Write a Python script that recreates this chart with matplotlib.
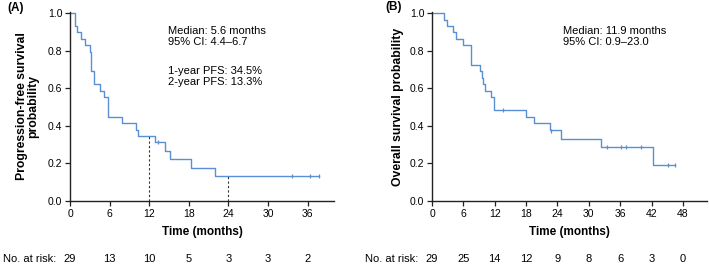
import matplotlib.pyplot as plt
from matplotlib.transforms import blended_transform_factory
import numpy as np

plt.rcParams['font.family'] = ['Liberation Sans', 'DejaVu Sans']

# Panel A - progression-free survival
pfs_t = [0, 0.7, 1.1, 1.7, 2.2, 3.0, 3.2, 3.6, 4.5, 5.1, 5.8, 7.9, 10.0, 10.3,
         12.9, 14.4, 15.1, 18.4, 21.9, 37.8]
pfs_s = [1.0, 0.931, 0.897, 0.862, 0.828, 0.793, 0.690, 0.621, 0.586, 0.552,
         0.448, 0.414, 0.379, 0.345, 0.312, 0.267, 0.222, 0.178, 0.133, 0.133]
pfs_cens_t = [13.4, 33.6, 36.3, 37.8]
pfs_cens_s = [0.312, 0.133, 0.133, 0.133]
pfs_ticks = [0, 6, 12, 18, 24, 30, 36]
pfs_risk = ['29', '13', '10', '5', '3', '3', '2']
pfs_marks = [(12, 0.345), (24, 0.133)]

# Panel B - overall survival
os_t = [0, 2.2, 2.9, 4.1, 4.5, 5.9, 7.5, 9.1, 9.5, 9.8, 10.2, 11.3, 11.9,
        17.9, 19.6, 22.5, 24.6, 32.4, 42.2, 46.4]
os_s = [1.0, 0.965, 0.931, 0.897, 0.862, 0.828, 0.724, 0.690, 0.655, 0.621,
        0.586, 0.552, 0.483, 0.448, 0.414, 0.379, 0.331, 0.289, 0.193, 0.193]
os_cens_t = [13.5, 22.8, 33.4, 36.2, 37.1, 40.0, 45.2, 46.4]
os_cens_s = [0.483, 0.372, 0.289, 0.289, 0.289, 0.289, 0.193, 0.193]
os_ticks = [0, 6, 12, 18, 24, 30, 36, 42, 48]
os_risk = ['29', '25', '14', '12', '9', '8', '6', '3', '0']

blue = '#5b8fd3'
fig = plt.figure(figsize=(7.09, 2.65), dpi=100)
axA = fig.add_axes([70/709, 1-201/265, 264/709, 189/265])
axB = fig.add_axes([432/709, 1-201/265, 275/709, 189/265])


def style(ax, ticks, xmax):
    ax.set_xlim(0, xmax)
    ax.set_ylim(0, 1.005)
    ax.set_xticks(ticks)
    ax.set_yticks([0, 0.2, 0.4, 0.6, 0.8, 1.0])
    ax.set_yticklabels(['0.0', '0.2', '0.4', '0.6', '0.8', '1.0'])
    for s in ['top', 'right']:
        ax.spines[s].set_visible(False)
    for s in ['left', 'bottom']:
        ax.spines[s].set_color('#222222')
        ax.spines[s].set_linewidth(1.0)
    ax.tick_params(labelsize=7.5, length=3.5, width=0.9, color='#222222', pad=2)
    ax.set_xlabel('Time (months)', fontsize=8.5, fontweight='bold', labelpad=5)


style(axA, pfs_ticks, 40)
style(axB, os_ticks, 52.6)

axA.step(pfs_t, pfs_s, where='post', color=blue, lw=1.0)
axA.plot(pfs_cens_t, pfs_cens_s, ls='none', marker='|', ms=3.5, mew=0.9, color=blue)
for x, y in pfs_marks:
    axA.plot([x, x], [0, y], ls=(0, (2, 2)), color='#333333', lw=0.8)

axB.step(os_t, os_s, where='post', color=blue, lw=1.0)
axB.plot(os_cens_t, os_cens_s, ls='none', marker='|', ms=3.5, mew=0.9, color=blue)

axA.set_ylabel('Progression-free survival\nprobability', fontsize=8.8,
               fontweight='bold', labelpad=6, linespacing=1.0)
axB.set_ylabel('Overall survival probability', fontsize=8.8, fontweight='bold',
               labelpad=4)

axA.text(0.371, 0.925, 'Median: 5.6 months\n95% CI: 4.4\u20136.7', transform=axA.transAxes,
         fontsize=8, va='top', linespacing=1.15)
axA.text(0.371, 0.715, '1-year PFS: 34.5%\n2-year PFS: 13.3%', transform=axA.transAxes,
         fontsize=8, va='top', linespacing=1.15)
axB.text(0.476, 0.925, 'Median: 11.9 months\n95% CI: 0.9\u201323.0', transform=axB.transAxes,
         fontsize=8, va='top', linespacing=1.15)

fig.text(7/709, 1-8/265, '(A)', fontsize=8.5, fontweight='bold', va='center', ha='left')
fig.text(385/709, 1-7/265, '(B)', fontsize=8.5, fontweight='bold', va='center', ha='left')

# numbers at risk
for ax, ticks, risk, x0 in [(axA, pfs_ticks, pfs_risk, 3), (axB, os_ticks, os_risk, 365)]:
    tr = blended_transform_factory(ax.transData, fig.transFigure)
    for t, r in zip(ticks, risk):
        ax.text(t, 1-259/265, r, transform=tr, fontsize=8, ha='center', va='center',
                clip_on=False)
    fig.text(x0/709, 1-259/265, 'No. at risk:', fontsize=8, ha='left', va='center')

fig.savefig('out.png', dpi=100)
